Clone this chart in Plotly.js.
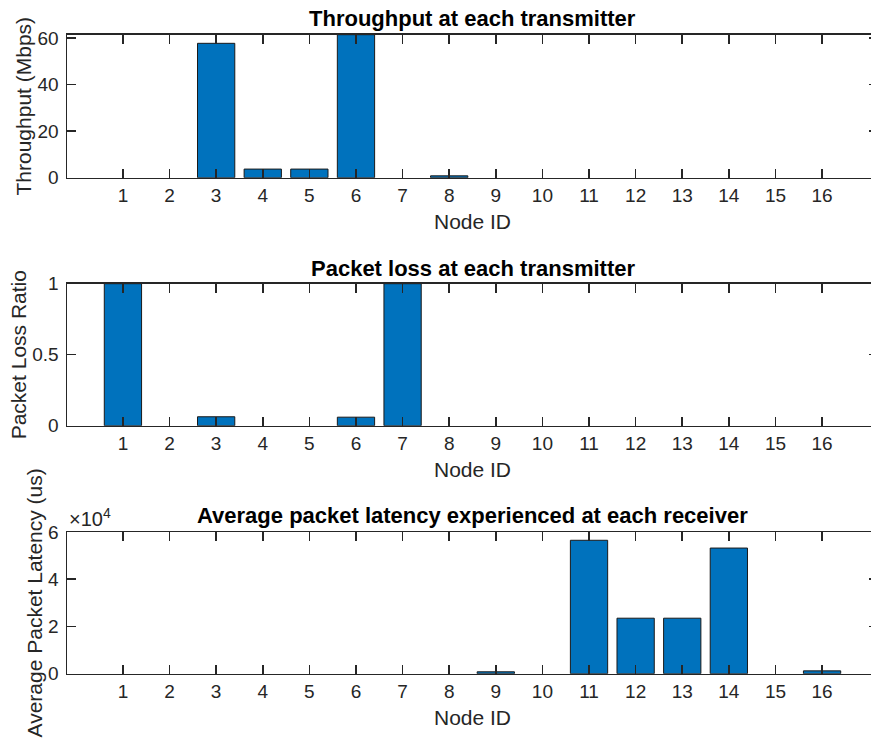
<!DOCTYPE html>
<html>
<head>
<meta charset="utf-8">
<script src="https://cdn.plot.ly/plotly-3.0.1.min.js"></script>
<style>
html, body { margin: 0; padding: 0; overflow: hidden; background: #fff; }
#chart { width: 880px; height: 746px; }
</style>
</head>
<body>
<div id="chart"></div>
<script>
// ---- data ----
var nodeIds = [1, 2, 3, 4, 5, 6, 7, 8, 9, 10, 11, 12, 13, 14, 15, 16];
var throughputMbps = [0, 0, 57.7, 3.7, 3.7, 61.4, 0, 0.8, 0, 0, 0, 0, 0, 0, 0, 0];
var packetLossRatio = [1, 0, 0.063, 0, 0, 0.06, 1, 0, 0, 0, 0, 0, 0, 0, 0, 0];
var latencyUs = [0, 0, 0, 0, 0, 0, 0, 0, 800, 0, 56500, 23500, 23500, 53200, 0, 1200];
var xTickLabels = nodeIds.map(String);
var latencyTickVals = [0, 20000, 40000, 60000];
var latencyTickText = ['0', '2', '4', '6'];

var W = 880, H = 746;
var barColor = '#0072BD';
var axColor = '#262626';
var fontFam = 'Liberation Sans, Arial, Helvetica, sans-serif';

function bar(y, xa, ya) {
  return {
    type: 'bar', x: nodeIds, y: y, xaxis: xa, yaxis: ya, width: 0.8,
    marker: { color: barColor, line: { color: '#1a1a1a', width: y.map(function (v) { return v > 0 ? 1 : 0; }) } },
    hoverinfo: 'x+y', showlegend: false
  };
}

function xAxis(anchor) {
  return {
    anchor: anchor, range: [-0.2, 17.2], tickmode: 'array', tickvals: nodeIds, ticktext: xTickLabels,
    ticks: 'inside', ticklen: 9, tickwidth: 1.5, tickcolor: axColor,
    showline: true, linecolor: axColor, linewidth: 1.5, mirror: 'ticks',
    showgrid: false, zeroline: false, fixedrange: true,
    tickfont: { size: 19, color: axColor, family: fontFam },
    ticklabelstandoff: 0,
    title: { text: 'Node ID', font: { size: 21, color: axColor, family: fontFam }, standoff: 9 }
  };
}

function yAxis(anchor, domain, range, title, extra) {
  var a = {
    anchor: anchor, domain: domain, range: range,
    ticks: 'inside', ticklen: 9, tickwidth: 1.5, tickcolor: axColor,
    showline: true, linecolor: axColor, linewidth: 1.5, mirror: 'ticks',
    showgrid: false, zeroline: false, fixedrange: true,
    tickfont: { size: 19, color: axColor, family: fontFam },
    ticklabelstandoff: 3,
    title: { text: title, font: { size: 21, color: axColor, family: fontFam }, standoff: 0 }
  };
  for (var k in extra) a[k] = extra[k];
  return a;
}

function dom(topPx, botPx) { return [1 - botPx / H, 1 - topPx / H]; }

var data = [
  bar(throughputMbps, 'x', 'y'),
  bar(packetLossRatio, 'x2', 'y2'),
  bar(latencyUs, 'x3', 'y3')
];

function titleAnn(text, yPx) {
  return {
    text: '<b>' + text + '</b>', xref: 'paper', yref: 'paper', x: 0.5, y: 1 - yPx / H,
    xanchor: 'center', yanchor: 'middle', showarrow: false,
    font: { size: 22, color: '#000', family: fontFam }
  };
}

var layout = {
  width: W, height: H,
  margin: { l: 67, r: 2, t: 0, b: 0 },
  paper_bgcolor: '#fff', plot_bgcolor: '#fff',
  font: { family: fontFam, color: axColor },
  bargap: 0,
  xaxis: xAxis('y'),
  xaxis2: xAxis('y2'),
  xaxis3: xAxis('y3'),
  yaxis: yAxis('x', dom(34.7, 177.7), [0, 61.4], 'Throughput (Mbps)', { tickvals: [0, 20, 40, 60] }),
  yaxis2: yAxis('x2', dom(283.7, 425.7), [0, 1], 'Packet Loss Ratio', { tickvals: [0, 0.5, 1], ticktext: ['0', '0.5', '1'] }),
  yaxis3: yAxis('x3', dom(532, 673.7), [0, 60000], 'Average Packet Latency (us)', { tickmode: 'array', tickvals: latencyTickVals, ticktext: latencyTickText }),
  annotations: [
    titleAnn('Throughput at each transmitter', 18),
    titleAnn('Packet loss at each transmitter', 268),
    titleAnn('Average packet latency experienced at each receiver', 515),
    {
      text: '×10<sup>4</sup>', xref: 'paper', yref: 'paper', x: 0, y: 1 - 532 / H,
      xanchor: 'left', yanchor: 'bottom', showarrow: false, xshift: 0,
      font: { size: 20, color: axColor, family: fontFam }
    }
  ]
};

Plotly.newPlot('chart', data, layout, { displayModeBar: false, staticPlot: true });
</script>
</body>
</html>
